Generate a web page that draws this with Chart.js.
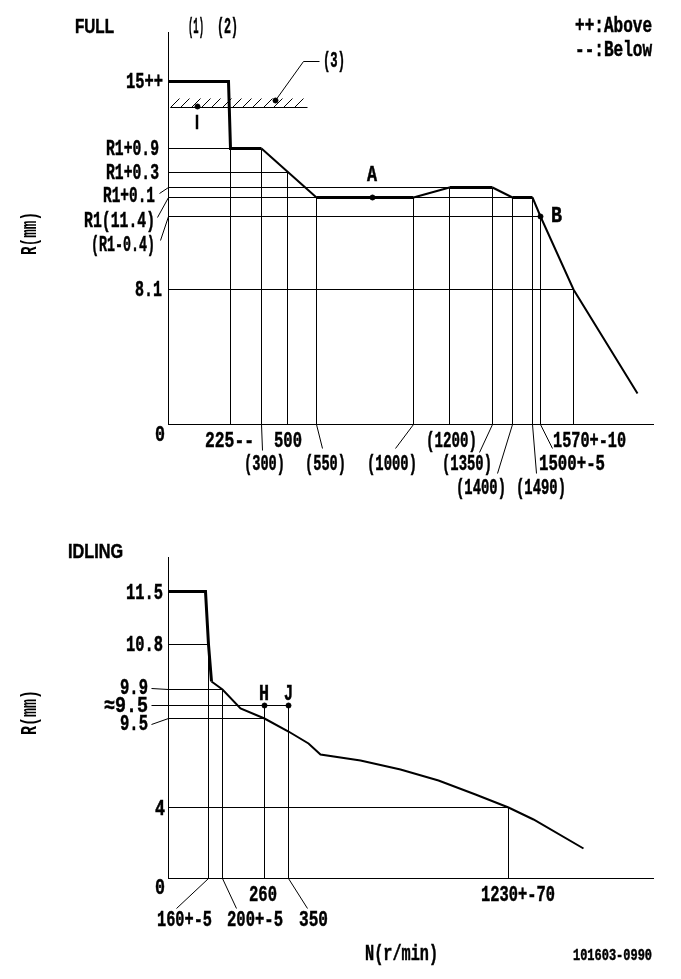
<!DOCTYPE html>
<html><head><meta charset="utf-8">
<script src="https://cdn.jsdelivr.net/npm/chart.js@4"></script>
<style>html,body{margin:0;padding:0;background:#fff}canvas{position:absolute;left:0;display:block}</style>
</head><body>
<canvas id="full" width="681" height="500" style="top:0"></canvas>
<canvas id="idle" width="681" height="479" style="top:500px"></canvas>
<script>
// ---- FULL governor curve, in drawing units of the schematic (not-to-scale) axes
const fullCurveX = [0, 60, 62, 93, 148, 245, 281, 324, 344, 364, 372, 405, 469];
const fullCurveY = [343, 343, 276, 276, 227, 227, 237, 237, 227, 227, 208, 135, 31];
const fullThick  = [1, 1, 1, 0, 1, 0, 1, 0, 1, 0, 0, 0];
const fullDropX  = [62, 93, 119, 148, 245, 281, 324, 344, 364, 372, 405];
const fullDropY  = [276, 276, 252, 227, 227, 237, 237, 227, 227, 208, 135];
const fullLevelY = [276, 252, 237, 227, 208, 135];
const fullLevelX = [62, 119, 281, 364, 372, 405];
const fullPointsX = [29, 107, 204, 372];
const fullPointsY = [318, 324, 227, 208];
const fullStopX = [2, 139];
const fullStopY = 317;
const fullHatchX = [2, 12, 23, 33, 43, 54, 64, 74, 84, 95, 105, 115, 126];
const fullCallout = [[107, 324], [135, 363], [151, 363]];
const fullLeaders = [[93,0,94,-26],[148,0,154,-24],[245,0,227,-24],[324,0,311,-28],[344,0,329,-49],[364,0,368,-49],[372,0,384,-24],[-9,231,0,237],[-11,207,0,227],[-8,184,0,208]];
const fullTexts = ['FULL','(1)','(2)','(3)','++:Above','--:Below','15++','R1+0.9','R1+0.3','R1+0.1','R1(11.4)','(R1-0.4)','8.1','0','I','A','B','225--','500','(1200)','1570+-10','(300)','(550)','(1000)','(1350)','1500+-5','(1400)','(1490)','N(r/min)'];

// ---- IDLING curve
const idleCurveX = [0, 37, 40, 43, 54, 72, 96, 120, 140, 152, 192, 232, 270, 307, 340, 365, 415];
const idleCurveY = [287, 287, 234, 197, 189, 170, 160, 147, 135, 124, 118, 109, 98, 84, 71, 59, 30];
const idleThick  = [1, 1, 1, 0, 0, 0, 0, 0, 0, 0, 0, 0, 0, 0, 0, 0];
const idleDropX  = [40, 54, 96, 120, 340];
const idleDropY  = [234, 189, 173, 173, 71];
const idleLevelY = [234, 189, 173, 160, 71];
const idleLevelX = [40, 54, 120, 96, 340];
const idlePointsX = [96, 120];
const idlePointsY = [173, 173];
const idleLeaders = [[-17,173,0,173],[-17,190,0,189],[-17,154,0,160],[40,0,8,-30],[54,0,68,-30],[120,0,139,-30]];
const idleTexts = ['IDLING','11.5','10.8','9.9','≈9.5','9.5','4','0','H','J','260','1230+-70','160+-5','200+-5','350','N(r/min)','101603-0990'];

// ---- text layout: [left, right, centre y] on the page, same order as the text lists
const fullTextSpots = [[75,114,26],[188,204,26],[217,238,26],[323,345,60],[575,652,25],[575,652,49],[126,163,81],[106,159,148],[106,159,172],[103,155,195],[84,155,220],[91,155,244],[135,162,289],[155,165,434],[195,199,122],[367,377,174],[551,562,215],[205,254,440],[274,302,440],[426,477,440],[553,626,440],[244,285,463],[305,346,463],[367,417,463],[442,492,463],[539,605,463],[456,506,487],[516,566,487],[365,438,526]];
const idleTextSpots = [[68,123,551],[126,163,592],[126,163,644],[120,148,687],[104,148,705],[120,148,723],[155,165,808],[155,165,887],[259,269,693],[284,293,693],[249,277,894],[481,555,894],[157,212,919],[227,283,919],[299,328,919],[365,438,953],[573,652,955]];

const INK = '#000';
const FONT = 'bold 22px "Liberation Mono"';
const SANS = 'bold 20px "Liberation Sans"';
const SMALL = 'bold 16px "Liberation Mono"';
const sansTexts = ['FULL', 'IDLING', 'I'];

const toSegments = list => list.flatMap(([a,b,c,d]) => [{x:a,y:b},{x:c,y:d},{x:null,y:null}]);
const zip = (xs, ys) => xs.map((x,i) => ({x, y: ys[i]}));
const thinLines = (dropX, dropY, levelY, levelX, leaders, extra=[]) => toSegments([
  ...dropX.map((x,i) => [x,0,x,dropY[i]]),
  ...levelY.map((y,i) => [0,y,levelX[i],y]),
  ...leaders, ...extra
]);

function fitText(ctx, text, l, r, yc, font) {
  ctx.save();
  ctx.font = font;
  ctx.fillStyle = INK;
  ctx.strokeStyle = INK;
  ctx.lineWidth = 0.5;
  ctx.textBaseline = 'middle';
  ctx.textAlign = 'left';
  const w = ctx.measureText(text).width;
  ctx.translate(l, yc);
  ctx.scale((r - l) / w, 1);
  ctx.fillText(text, 0, 1);
  ctx.strokeText(text, 0, 1);
  ctx.restore();
}
function axisTitle(ctx, text, x, yTop, yBottom) {
  ctx.save();
  ctx.font = FONT;
  ctx.fillStyle = INK;
  ctx.textBaseline = 'middle';
  const w = ctx.measureText(text).width;
  ctx.translate(x, yBottom);
  ctx.rotate(-Math.PI/2);
  ctx.scale((yBottom - yTop)/w, 1);
  ctx.fillText(text, 0, 0);
  ctx.restore();
}
const textPlugin = (texts, spots, offset, titleSpan) => ({
  id: 'pageText',
  afterDraw(chart) {
    const ctx = chart.ctx;
    texts.forEach((t,i) => {
      const [l,r,y] = spots[i];
      const font = t === '101603-0990' ? SMALL : sansTexts.includes(t) ? SANS : FONT;
      fitText(ctx, t, l, r, y - offset, font);
    });
    axisTitle(ctx, 'R(mm)', 30, titleSpan[0] - offset, titleSpan[1] - offset);
  }
});
const whiteBg = {id:'bg', beforeDraw(c){c.ctx.save();c.ctx.fillStyle='#fff';c.ctx.fillRect(0,0,c.width,c.height);c.ctx.restore();}};

function makeChart(id, o) {
  const widths = o.thick;
  return new Chart(document.getElementById(id), {
    type: 'scatter',
    data: { datasets: [
      { label:'thin', data:o.thin, showLine:true, borderColor:INK, borderWidth:1, pointRadius:0, spanGaps:false, clip:false, order:3 },
      { label:'curve', data:zip(o.cx,o.cy), showLine:true, borderColor:INK, pointRadius:0, clip:false, tension:0, order:2,
        borderWidth:2,
        segment:{ borderWidth: c => widths[c.p0DataIndex] ? 3 : 2 } },
      { label:'points', data:zip(o.px,o.py), showLine:false, pointRadius:2.5, pointBackgroundColor:INK, pointBorderColor:INK, clip:false, order:1 }
    ]},
    options: {
      responsive:false, animation:false, devicePixelRatio:1,
      layout:{ padding:o.padding },
      plugins:{ legend:{display:false}, tooltip:{enabled:false}, title:{display:false} },
      events:[],
      scales:{
        x:{ type:'linear', min:0, max:485, grid:{display:false,drawTicks:false}, ticks:{display:false}, border:{display:true,color:INK,width:1} },
        y:{ type:'linear', min:0, max:o.ymax, grid:{display:false,drawTicks:false}, ticks:{display:false}, border:{display:true,color:INK,width:1} }
      }
    },
    plugins:[whiteBg, o.text]
  });
}

const hatchLines = fullHatchX.map(x => [x, fullStopY, x+9, fullStopY+9]);
const extraFull = [[fullStopX[0],fullStopY,fullStopX[1],fullStopY], ...hatchLines,
  [fullCallout[0][0],fullCallout[0][1],fullCallout[1][0],fullCallout[1][1]],
  [fullCallout[1][0],fullCallout[1][1],fullCallout[2][0],fullCallout[2][1]]];

makeChart('full', {
  cx:fullCurveX, cy:fullCurveY, thick:fullThick, px:fullPointsX, py:fullPointsY, ymax:392,
  thin:thinLines(fullDropX, fullDropY, fullLevelY, fullLevelX, fullLeaders, extraFull),
  padding:{left:168.5, top:32.5, right:27.5, bottom:75.5},
  text:textPlugin(fullTexts, fullTextSpots, 0, [212,255])
});
makeChart('idle', {
  cx:idleCurveX, cy:idleCurveY, thick:idleThick, px:idlePointsX, py:idlePointsY, ymax:321,
  thin:thinLines(idleDropX, idleDropY, idleLevelY, idleLevelX, idleLeaders),
  padding:{left:168.5, top:57.5, right:27.5, bottom:100.5},
  text:textPlugin(idleTexts, idleTextSpots, 500, [690,735])
});
</script>
</body></html>
